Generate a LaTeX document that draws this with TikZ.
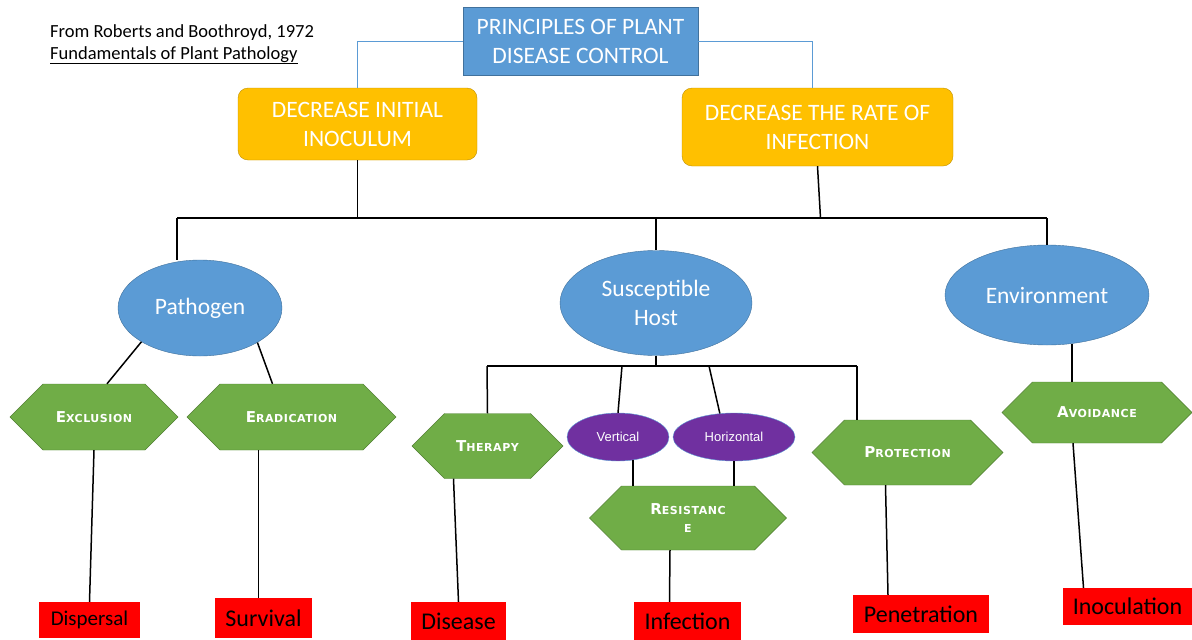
\documentclass[tikz,border=0pt]{standalone}
\usepackage{fontspec}
\setmainfont{Carlito}
\newfontfamily\arialfont{Liberation Sans}
\newfontfamily\hexfont[LetterSpace=5]{DejaVu Sans}
\usetikzlibrary{shapes.geometric,shapes.symbols,calc}
\definecolor{boxblue}{HTML}{5B9BD5}
\definecolor{blueedge}{HTML}{41719C}
\definecolor{gold}{HTML}{FFC000}
\definecolor{goldedge}{HTML}{BF9000}
\definecolor{leaf}{HTML}{70AD47}
\definecolor{leafedge}{HTML}{507E32}
\definecolor{plum}{HTML}{7030A0}
\newcommand\fakesc[2]{{\fontsize{15}{17}\selectfont #1}{\fontsize{11}{17}\selectfont #2}}

\begin{document}
\begin{tikzpicture}[x=1pt,y=-1pt,
  topbox/.style={draw=blueedge,fill=boxblue,text=white,align=center,inner sep=0,
    font=\fontsize{23.5}{29}\selectfont},
  goal/.style={draw=goldedge,fill=gold,text=white,rounded corners=10,align=center,
    inner sep=0,font=\fontsize{23.5}{29}\selectfont},
  factor/.style={ellipse,draw=blueedge,fill=boxblue,text=white,inner sep=0,
    align=center,font=\fontsize{23.5}{29}\selectfont},
  method/.style={signal,signal to=east and west,signal pointer angle=90,
    draw=leafedge,fill=leaf,text=white,inner sep=0,align=center,font=\hexfont\bfseries},
  kind/.style={ellipse,draw=boxblue,fill=plum,text=white,inner sep=0,
    font=\arialfont\fontsize{13}{15}\selectfont},
  stage/.style={fill=red,inner sep=0,font=\fontsize{24}{28}\selectfont},
  link/.style={line width=1.5pt},
  bluelink/.style={boxblue,line width=1pt}]
\useasboundingbox (0,0) rectangle (1192,640);

% source
\node[anchor=north west,align=left,inner sep=0,font=\fontsize{18.5}{22}\selectfont] (src) at (50,24)
  {From Roberts and Boothroyd, 1972\\\underline{Fundamentals of Plant Pathology}};

% top levels
\node[topbox,minimum width=235,minimum height=68] (top) at (580.5,41) {PRINCIPLES OF PLANT\\DISEASE CONTROL};
\node[goal,minimum width=239,minimum height=72] (dii) at (357.5,124) {DECREASE INITIAL\\INOCULUM};
\node[goal,minimum width=271,minimum height=78] (dri) at (817.5,127) {DECREASE THE RATE OF\\INFECTION};

% triangle
\node[factor,minimum width=164,minimum height=96] (pat) at (200,308) {Pathogen};
\node[factor,minimum width=192,minimum height=105] (host) at (656,303) {Susceptible\\Host};
\node[factor,minimum width=204,minimum height=100] (env) at (1047,295) {Environment};

% methods
\node[method,minimum width=168,minimum height=66] (exc) at (94,417) {\fakesc{E}{XCLUSION}};
\node[method,minimum width=209,minimum height=66] (era) at (291.5,417) {\fakesc{E}{RADICATION}};
\node[method,minimum width=151,minimum height=65] (thr) at (487.5,446) {\fakesc{T}{HERAPY}};
\node[kind,minimum width=102,minimum height=48] (ver) at (618,437) {Vertical};
\node[kind,minimum width=122,minimum height=48] (hor) at (734,437) {Horizontal};
\node[method,minimum width=197,minimum height=64] (res) at (688,518) {\fakesc{R}{ESISTANC}\\[6pt]{\fontsize{11}{12}\selectfont E}};
\node[method,minimum width=191,minimum height=65] (pro) at (907.5,452.5) {\fakesc{P}{ROTECTION}};
\node[method,minimum width=190,minimum height=61] (avo) at (1097,412.5) {\fakesc{A}{VOIDANCE}};

% stages
\node[stage,minimum width=101,minimum height=36,font=\fontsize{21}{24}\selectfont] (dis) at (89.5,620) {Dispersal};
\node[stage,minimum width=97,minimum height=40] (sur) at (263.5,618) {Survival};
\node[stage,minimum width=95,minimum height=38] (dse) at (458.5,621) {Disease};
\node[stage,minimum width=107,minimum height=38] (inf) at (687.5,621) {Infection};
\node[stage,minimum width=136,minimum height=38] (pen) at (921,614) {Penetration};
\node[stage,minimum width=129,minimum height=37] (ino) at (1127.5,606.5) {Inoculation};

\coordinate (barL) at (177,218);
\coordinate (barR) at (1047,218);
\coordinate (hbL) at (487,366);
\coordinate (hbR) at (857,366);
\coordinate (jv) at (622,366);
\coordinate (jh) at (709,366);

\draw[bluelink] (top.west) -| (dii.north);
\draw[bluelink] (top.east) -| ($(dri.north)+(-5,0)$);

\draw[link] (dii.south) -- (dii.south |- barL);
\draw[link] (dri.south) -- ($(dri.south |- barR)+(3,0)$);
\draw[link] (barL) -- (barR);
\draw[link] (barL) -- (pat.north -| barL);
\draw[link] (host.north |- barL) -- (host.north);
\draw[link] (barR) -- (env.north);

\draw[link] (pat.210) -- ($(exc.north)+(13,0)$);
\draw[link] (pat.329) -- ($(era.north)+(-19,0)$);
\draw[link] (exc.south) -- (dis.north);
\draw[link] ($(era.south)+(-33,0)$) -- ($(sur.north)+(-5,0)$);

\draw[link] (host.south) -- (host.south |- hbL);
\draw[link] (hbL) -- (hbR);
\draw[link] (hbL) -- (thr.north);
\draw[link] (jv) -- (ver.north);
\draw[link] (jh) -- (hor.121);
\draw[link] (hbR) -- (hbR |- pro.north);
\draw[link] (ver.-57) -- (ver.-57 |- res.north);
\draw[link] (hor.south) -- (hor.south |- res.north);
\draw[link] ($(res.south)+(-18,0)$) -- ($(inf.north)+(-18,0)$);
\draw[link] ($(thr.south)+(-34,0)$) -- (dse.north);
\draw[link] ($(pro.south)+(-22,0)$) -- ($(pen.north)+(-33,0)$);

\draw[link] (env.-63) -- (env.-63 |- avo.north);
\draw[link] ($(avo.south)+(-24,0)$) -- ($(ino.north)+(-44,0)$);
\end{tikzpicture}
\end{document}
